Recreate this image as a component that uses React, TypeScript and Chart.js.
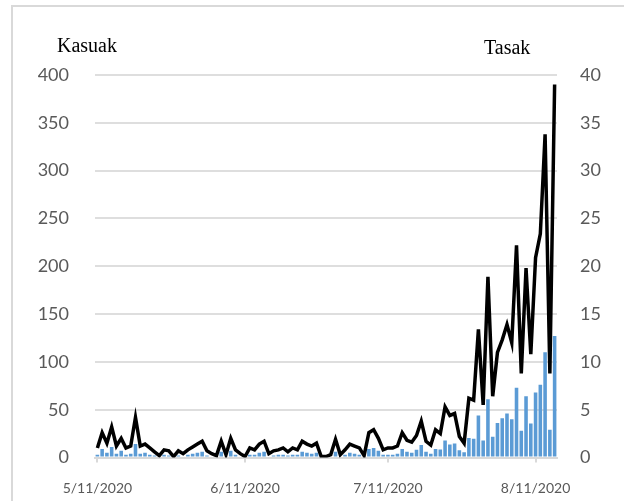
import React, { useEffect, useRef } from 'react';
import { Chart, registerables } from 'chart.js';
Chart.register(...registerables);

// Daily categories 5/11/2020 .. 8/15/2020
const firstDay = { year: 2020, month: 4, day: 11 };
const dayCount = 97;
const categories: string[] = Array.from({ length: dayCount }, (_, i) => {
  const d = new Date(firstDay.year, firstDay.month, firstDay.day + i);
  return `${d.getMonth() + 1}/${d.getDate()}/${d.getFullYear()}`;
});

const tickDates = ['5/11/2020', '6/11/2020', '7/11/2020', '8/11/2020'];

// Kasuak (bars, left axis)
const kasuak = [
  3, 9, 5, 11, 4, 7, 3, 4, 14, 4,
  5, 3, 2, 1, 3, 2, 0, 2, 1, 3,
  4, 5, 6, 2, 1, 1, 6, 1, 7, 3,
  1, 0, 3, 3, 5, 6, 1, 2, 3, 3,
  2, 3, 3, 6, 5, 4, 5, 0, 0, 1,
  6, 1, 3, 5, 4, 3, 1, 9, 10, 7,
  3, 3, 3, 4, 9, 6, 5, 8, 13, 6,
  4, 9, 8.4, 17.8, 13.6, 14.6, 7.7, 5.6, 20.5, 19.5,
  44, 17.8, 61, 21.6, 36, 41, 46, 40, 73, 28,
  64, 35.5, 68, 76, 110, 29, 127,
];

// Tasak (line, right axis)
const tasak = [
  1.0, 2.6, 1.5, 3.2, 1.2, 2.0, 1.0, 1.2, 4.2, 1.2,
  1.4, 1.0, 0.6, 0.2, 0.8, 0.7, 0.1, 0.7, 0.4, 0.8,
  1.1, 1.4, 1.7, 0.7, 0.4, 0.2, 1.7, 0.3, 2.0, 0.8,
  0.4, 0.1, 1.0, 0.8, 1.4, 1.7, 0.4, 0.7, 0.8, 1.0,
  0.6, 1.0, 0.8, 1.7, 1.4, 1.2, 1.5, 0.1, 0.1, 0.3,
  1.9, 0.3, 0.8, 1.4, 1.2, 1.0, 0.2, 2.6, 2.9, 2.0,
  0.8, 1.0, 1.0, 1.2, 2.6, 1.8, 1.6, 2.3, 3.8, 1.7,
  1.3, 2.9, 2.5, 5.3, 4.4, 4.6, 2.2, 1.5, 6.2, 6.0,
  13.4, 5.5, 18.9, 6.4, 11.0, 12.3, 13.9, 12.0, 22.2, 8.8,
  19.8, 10.8, 20.9, 23.4, 33.8, 8.8, 39.0,
];

const leftTitle = 'Kasuak';
const rightTitle = 'Tasak';

export default function App() {
  const ref = useRef<HTMLCanvasElement | null>(null);

  useEffect(() => {
    if (!ref.current) return;
    const tickFontY = { family: 'Lato', size: 18 };
    const tickFontX = { family: 'Lato', size: 14 };
    const chart = new Chart(ref.current, {
      data: {
        labels: categories,
        datasets: [
          {
            type: 'line',
            label: rightTitle,
            data: tasak,
            yAxisID: 'y1',
            borderColor: '#000000',
            borderWidth: 3.5,
            pointRadius: 0,
            tension: 0,
            order: 0,
          } as any,
          {
            type: 'bar',
            label: leftTitle,
            data: kasuak,
            yAxisID: 'y',
            backgroundColor: '#5B9BD5',
            barPercentage: 0.75,
            categoryPercentage: 1,
            order: 1,
          } as any,
        ],
      },
      options: {
        responsive: false,
        animation: false,
        layout: { padding: { top: 75, left: 0, right: 0, bottom: 0 } },
        plugins: { legend: { display: false }, tooltip: { enabled: false } },
        scales: {
          x: {
            offset: true,
            grid: {
              display: true,
              offset: false,
              drawOnChartArea: false,
              drawTicks: true,
              tickLength: 5,
              lineWidth: 2,
              color: (c: any) => (c.tick && c.tick.label ? '#d9d9d9' : 'rgba(0,0,0,0)'),
            },
            border: { display: true, color: '#d9d9d9', width: 2 },
            ticks: {
              autoSkip: false,
              maxRotation: 0,
              minRotation: 0,
              padding: 18,
              color: '#595959',
              font: tickFontX,
              callback: (_v: any, i: number) => (tickDates.includes(categories[i]) ? categories[i] : ''),
            },
            afterFit: (s: any) => {
              s.height = 43.5;
            },
          },
          y: {
            position: 'left',
            min: 0,
            max: 400,
            ticks: { stepSize: 50, padding: 26, color: '#595959', font: tickFontY },
            grid: { color: '#dedede', lineWidth: 2, drawTicks: false },
            border: { display: false },
            afterFit: (s: any) => {
              s.width = 95;
            },
          },
          y1: {
            position: 'right',
            min: 0,
            max: 40,
            ticks: { stepSize: 5, padding: 23, color: '#595959', font: tickFontY },
            grid: { drawOnChartArea: false, drawTicks: false },
            border: { display: false },
            afterFit: (s: any) => {
              s.width = 67;
            },
          },
        },
      } as any,
    });
    return () => chart.destroy();
  }, []);

  const titleStyle: React.CSSProperties = {
    position: 'absolute',
    fontFamily: '"Liberation Serif", "Times New Roman", serif',
    fontSize: 20,
    lineHeight: '20px',
    color: '#000',
    whiteSpace: 'nowrap',
  };

  return (
    <div style={{ position: 'absolute', left: 0, top: 0, width: 624, height: 501, overflow: 'hidden', background: '#fff' }}>
      <div
        style={{
          position: 'absolute',
          left: 11,
          top: 5,
          width: 700,
          height: 600,
          borderLeft: '2px solid #d9d9d9',
          borderTop: '2px solid #d9d9d9',
          boxSizing: 'border-box',
        }}
      />
      <canvas ref={ref} width={624} height={501} style={{ position: 'absolute', left: 0, top: 0 }} />
      <div style={{ ...titleStyle, left: 57, top: 35 }}>{leftTitle}</div>
      <div style={{ ...titleStyle, left: 484, top: 37 }}>{rightTitle}</div>
    </div>
  );
}
